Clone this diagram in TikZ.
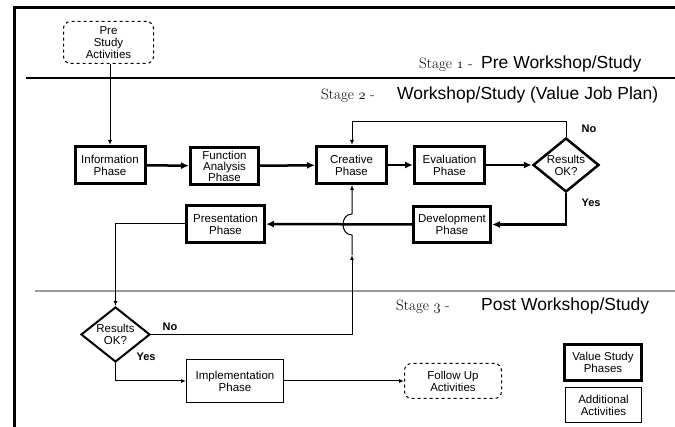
\documentclass[tikz,border=0pt]{standalone}
\usepackage{fontspec}
\setsansfont{Liberation Sans}
\usepackage{tikz}
\usetikzlibrary{arrows.meta,positioning,shapes.geometric}
\definecolor{rulegray}{HTML}{9A9A9A}

\begin{document}
\begin{tikzpicture}[
  x=1pt,y=-1pt,font=\sffamily\fontsize{11.5}{12}\selectfont,
  ph/.style={draw,line width=3pt,align=center,inner sep=0pt},
  addbx/.style={draw,line width=1pt,align=center,inner sep=0pt},
  extbx/.style={draw,dashed,rounded corners=7pt,line width=1pt,align=center,inner sep=0pt},
  dec/.style={draw,diamond,aspect=1.2,line width=2.5pt,inner sep=0pt,align=center,minimum width=66pt,minimum height=54pt},
  ar/.style={-{Latex[length=8pt,width=7pt]},line width=2.5pt},
  ln/.style={-{Latex[length=5pt,width=4pt]},line width=1pt},
  yn/.style={font=\sffamily\bfseries\fontsize{11}{12}\selectfont},
  stg/.style={anchor=base west,inner sep=0pt,font=\rmfamily\fontsize{15}{17}\selectfont},
  hd/.style={anchor=base west,inner sep=0pt,font=\sffamily\fontsize{17.5}{20}\selectfont}
]
\useasboundingbox (0,0) rectangle (675,427);

% frame and stage rules
\draw[line width=3pt] (675,8) -- (14,8) -- (14,427);
\draw[line width=1.2pt] (26,78) -- (675,78);
\draw[line width=1.2pt,rulegray] (35,291) -- (675,291);

% stage headings
\node[stg] (st1) at (419,69) {Stage $\mathnormal{1}$ -};
\node[hd] (hd1) at (481,69) {Pre Workshop/Study};
\node[stg] (st2) at (321,100) {Stage $\mathnormal{2}$ -};
\node[hd] (hd2) at (397,100) {Workshop/Study (Value Job Plan)};
\node[stg] (st3) at (396,311) {Stage $\mathnormal{3}$ -};
\node[hd] (hd3) at (481,311) {Post Workshop/Study};

% phases
\node[extbx,minimum width=90pt,minimum height=42pt] (pre) at (108.5,42.5) {Pre\\Study\\Activities};
\node[ph,minimum width=70pt,minimum height=37pt] (info) at (110,165) {Information\\Phase};
\node[ph,minimum width=68pt,minimum height=37pt,font=\sffamily\fontsize{11.5}{11}\selectfont] (func) at (224.5,166) {Function\\Analysis\\Phase};
\node[ph,minimum width=70pt,minimum height=37pt] (creat) at (351.5,165) {Creative\\Phase};
\node[ph,minimum width=70pt,minimum height=37pt] (eval) at (449.5,165) {Evaluation\\Phase};
\node[dec] (res1) at (566,165) {Results\\OK?};
\node[ph,minimum width=77pt,minimum height=36pt] (dev) at (452,224.5) {Development\\Phase};
\node[ph,minimum width=78pt,minimum height=37pt] (pres) at (225.5,224) {Presentation\\Phase};
\node[dec,line width=2pt,minimum width=69pt,minimum height=55pt] (res2) at (115.5,334.5) {Results\\OK?};
\node[addbx,minimum width=97pt,minimum height=43pt] (impl) at (235,381) {Implementation\\Phase};
\node[extbx,minimum width=97pt,minimum height=35pt] (follow) at (453,381) {Follow Up\\Activities};

% legend
\node[ph,minimum width=77pt,minimum height=36pt] (lgph) at (603,362.5) {Value Study\\Phases};
\node[addbx,minimum width=76pt,minimum height=35pt] (lgadd) at (603.5,405) {Additional\\Activities};

% labels
\node[yn] (no1) at (589,129) {No};
\node[yn] (yes1) at (591,203) {Yes};
\node[yn] (no2) at (170,327) {No};
\node[yn] (yes2) at (146,357) {Yes};

% helper points
\coordinate (loop) at (352,122);
\coordinate (mid) at (352,255);
\coordinate (hopb) at (352,235);
\coordinate (hopt) at (352,214);

% connectors
\draw[ln] (info.north |- pre.south) -- (info.north);
\draw[ar] (info) -- (func);
\draw[ar] (func) -- (creat);
\draw[ar] (creat) -- (eval);
\draw[ar] (eval) -- (res1);
\draw[ln] (res1.north) |- (loop) -- (creat.north -| loop);
\draw[ar] (res1.south) |- (dev.east);
\draw[ar] (dev) -- (pres);
\draw[ln] (pres.west) -| (res2.north);
\draw[ln] (res2.east) -| (mid);
\draw[ln] (mid) -- (hopb) .. controls (340,235) and (340,214) .. (hopt) -- (creat.south -| hopt);
\draw[ln] (res2.south) |- (impl.west);
\draw[ln] (impl) -- (follow);
\end{tikzpicture}
\end{document}
